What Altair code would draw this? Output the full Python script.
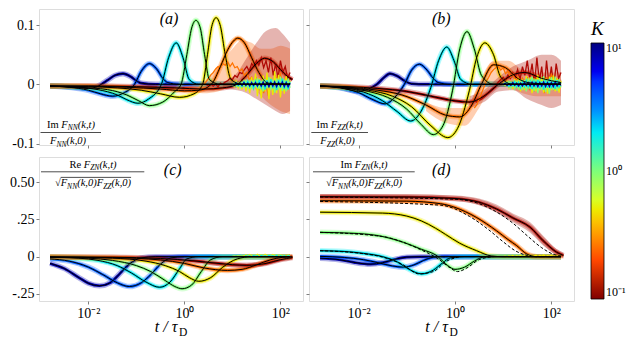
import altair as alt
import pandas as pd

SERIF = "Liberation Serif"
FRAME = "#7f7f7f"

# ---------------- colour bar (jet, reversed over K) ----------------
CB_K = [0.1, 0.1778, 0.3162, 0.5623, 1.0, 1.778, 3.162, 5.623, 10.0]
CB_COLORS = ["#800000", "#ff2100", "#ff9700", "#e3ff14", "#7dff7a",
             "#15ffe2", "#0080ff", "#0000ff", "#000080"]
CB_TICKS = [0.1, 1, 10]
CB_LABELS = ["10⁻¹", "10⁰", "10¹"]
BAND_COLORS = {0.25: "#ff6a10", 0.125: "#b01a10"}

# ---------------- axes ----------------
X_DOMAIN = [-3.03, 2.47]          # log10(t / tau_D)
X_TICKS = [-2, 0, 2]
X_LABELS = ["10⁻²", "10⁰", "10²"]
Y_DOMAIN_TOP = [-0.1025, 0.1272]
Y_TICKS_TOP = [-0.1, 0, 0.1]
Y_LABELS_TOP = ["-0.1", "0", "0.1"]
Y_DOMAIN_BOT = [-0.297, 0.668]
Y_TICKS_BOT = [-0.25, 0, 0.25, 0.5]
Y_LABELS_BOT = ["-.25", "0", ".25", "0.50"]

# ---------------- noise time grids ----------------
NZ_T = [1.00, 1.04, 1.08, 1.12, 1.16, 1.20, 1.24, 1.28, 1.32, 1.36, 1.40, 1.44, 1.48, 1.52, 1.56, 1.60,
        1.64, 1.68, 1.72, 1.76, 1.80, 1.84, 1.88, 1.92, 1.96, 2.00, 2.04, 2.08, 2.12, 2.16, 2.20]
NL_T = [0.40, 0.45, 0.50, 0.55, 0.60, 0.65, 0.70, 0.75, 0.80, 0.85, 0.90, 0.95, 1.00, 1.05, 1.10, 1.15,
        1.20, 1.25, 1.30, 1.35, 1.40, 1.45, 1.50, 1.55, 1.60, 1.65, 1.70, 1.75, 1.80, 1.85, 1.90, 1.95,
        2.00, 2.05, 2.10, 2.15, 2.20]

# ---------------- panel (a): Im F_NN / F_NN(k,0) ----------------
A_CURVES = {
    8: ([-2.8, -2.5, -2.2, -2.0, -1.85, -1.73, -1.6, -1.45, -1.28, -1.12, -1.0, -0.9, -0.6, 2.2],
        [-0.003, -0.004, -0.006, -0.007, -0.005, 0.0, 0.007, 0.015, 0.018, 0.013, 0.006, 0.002, 0.0, 0.0]),
    4: ([-2.8, -2.4, -2.0, -1.75, -1.5, -1.25, -1.04, -0.9, -0.73, -0.58, -0.45, -0.35, -0.1, 2.2],
        [-0.003, -0.005, -0.01, -0.016, -0.02, -0.014, 0.0, 0.022, 0.035, 0.026, 0.01, 0.003, 0.0, 0.0]),
    2: ([-2.8, -2.2, -1.8, -1.4, -1.2, -0.97, -0.75, -0.48, -0.33, -0.17, -0.03, 0.1, 0.3, 2.2],
        [-0.003, -0.005, -0.009, -0.018, -0.026, -0.032, -0.025, 0.0, 0.045, 0.07, 0.045, 0.008, 0.0, 0.0]),
    1: ([-2.8, -2.2, -1.6, -1.2, -0.95, -0.73, -0.45, -0.2, -0.07, 0.05, 0.15, 0.24, 0.33, 0.42, 0.52, 0.75, 2.2],
        [-0.003, -0.005, -0.009, -0.018, -0.028, -0.036, -0.03, -0.012, 0.0, 0.05, 0.095, 0.108, 0.095, 0.05,
         0.008, 0.0, 0.0]),
    0.5: ([-2.8, -2.0, -1.4, -0.9, -0.5, -0.1, 0.2, 0.38, 0.48, 0.57, 0.66, 0.75, 0.85, 0.97, 1.2, 2.2],
          [-0.003, -0.004, -0.006, -0.01, -0.016, -0.022, -0.016, 0.0, 0.05, 0.098, 0.1125, 0.098, 0.05, 0.008,
           0.0, 0.0]),
    0.25: ([-2.8, -2.0, -1.2, -0.5, 0.0, 0.3, 0.56, 0.75, 0.9, 1.02, 1.11, 1.25, 1.4, 1.55, 1.74, 2.2],
           [-0.003, -0.003, -0.005, -0.008, -0.011, -0.01, 0.0, 0.03, 0.058, 0.073, 0.078, 0.07, 0.045, 0.02,
            0.002, 0.0]),
    0.125: ([-2.8, -2.0, -1.0, -0.2, 0.4, 0.8, 1.1, 1.3, 1.5, 1.67, 1.85, 2.0, 2.15, 2.25],
            [-0.003, -0.003, -0.004, -0.006, -0.008, -0.006, 0.0, 0.016, 0.035, 0.044, 0.038, 0.025, 0.013, 0.008]),
}
A_BANDS = {
    0.25: ([0.0, 0.4, 0.7, 1.0, 1.2, 1.4, 1.6, 1.8, 2.0, 2.2],
           [-0.012, -0.015, -0.012, 0.0, 0.01, 0.0, -0.02, -0.035, -0.045, -0.05],
           [-0.004, 0.005, 0.03, 0.06, 0.075, 0.07, 0.06, 0.06, 0.065, 0.06]),
    0.125: ([0.8, 1.1, 1.3, 1.5, 1.7, 1.9, 2.05, 2.2],
            [-0.008, -0.01, -0.015, -0.025, -0.035, -0.045, -0.05, -0.045],
            [0.004, 0.02, 0.045, 0.07, 0.09, 0.095, 0.085, 0.07]),
}
A_NOISE = {
    0.125: (NL_T, [0.0, 0.0, -0.002, 0.0, -0.003, 0.0, -0.004, 0.002, 0.0, 0.004, 0.006, 0.01, 0.008, 0.015,
                   0.012, 0.02, 0.018, 0.025, 0.03, 0.022, 0.035, 0.03, 0.04, 0.032, 0.045, 0.028, 0.04, 0.02,
                   0.045, 0.015, 0.035, 0.01, 0.04, 0.02, 0.03, 0.01, 0.02]),
    0.25: (NL_T, [0.0, 0.004, 0.01, 0.016, 0.02, 0.026, 0.03, 0.028, 0.035, 0.032, 0.038, 0.03, 0.036, 0.028,
                  0.03, 0.022, 0.026, 0.015, 0.02, 0.008, 0.012, 0.0, 0.01, -0.01, 0.005, -0.015, 0.0, -0.02,
                  0.01, -0.012, 0.015, -0.005, 0.02, -0.01, 0.01, 0.0, 0.005]),
    0.5: (NZ_T, [0.002, -0.004, 0.005, -0.006, 0.004, -0.009, 0.008, -0.012, 0.006, -0.015, 0.012, -0.01, 0.018,
                 -0.02, 0.01, -0.024, 0.015, -0.012, 0.02, -0.025, 0.012, -0.018, 0.022, -0.015, 0.016, -0.022,
                 0.01, -0.016, 0.014, -0.01, 0.006]),
    1: (NZ_T, [-0.002, 0.003, -0.004, 0.002, -0.005, 0.004, -0.003, 0.006, -0.006, 0.005, -0.008, 0.007, -0.005,
               0.01, -0.008, 0.006, -0.012, 0.009, -0.007, 0.012, -0.01, 0.008, -0.014, 0.01, -0.009, 0.013,
               -0.011, 0.008, -0.012, 0.01, -0.006]),
    2: (NZ_T, [0.001, -0.002, 0.003, -0.003, 0.002, -0.004, 0.005, -0.003, 0.006, -0.005, 0.004, -0.007, 0.006,
               -0.004, 0.008, -0.006, 0.005, -0.009, 0.007, -0.005, 0.009, -0.007, 0.006, -0.01, 0.008, -0.006,
               0.01, -0.008, 0.006, -0.009, 0.004]),
    8: (NZ_T, [0.001, -0.002, 0.002, -0.001, 0.002, -0.002, 0.003, -0.002, 0.002, -0.003, 0.003, -0.002, 0.003,
               -0.003, 0.002, -0.003, 0.004, -0.003, 0.003, -0.004, 0.003, -0.003, 0.004, -0.004, 0.003, -0.003,
               0.004, -0.004, 0.003, -0.004, 0.002]),
}

# ---------------- panel (b): Im F_ZZ / F_ZZ(k,0) ----------------
B_CURVES = {
    8: ([-2.8, -2.4, -2.2, -2.0, -1.8, -1.62, -1.48, -1.35, -1.2, -1.05, -0.9, -0.6, 2.2],
        [-0.003, -0.005, -0.009, -0.012, -0.008, 0.0, 0.011, 0.018, 0.014, 0.006, 0.001, 0.0, 0.0]),
    4: ([-2.8, -2.4, -2.0, -1.7, -1.45, -1.25, -1.05, -0.9, -0.74, -0.58, -0.45, -0.35, -0.1, 2.2],
        [-0.003, -0.006, -0.014, -0.026, -0.033, -0.022, 0.0, 0.024, 0.034, 0.024, 0.01, 0.003, 0.0, 0.0]),
    2: ([-2.8, -2.3, -1.9, -1.5, -1.2, -0.92, -0.7, -0.5, -0.34, -0.17, -0.02, 0.12, 0.35, 2.2],
        [-0.003, -0.006, -0.013, -0.028, -0.046, -0.062, -0.045, -0.005, 0.04, 0.063, 0.04, 0.008, 0.0, 0.0]),
    1: ([-2.8, -2.3, -1.8, -1.4, -1.0, -0.7, -0.45, -0.25, -0.05, 0.1, 0.25, 0.4, 0.55, 0.8, 2.2],
        [-0.003, -0.006, -0.012, -0.022, -0.042, -0.068, -0.085, -0.07, -0.01, 0.06, 0.089, 0.06, 0.015, 0.0, 0.0]),
    0.5: ([-2.8, -2.3, -1.8, -1.3, -0.9, -0.5, -0.15, 0.05, 0.3, 0.45, 0.62, 0.8, 0.95, 1.2, 2.2],
          [-0.003, -0.005, -0.01, -0.02, -0.038, -0.07, -0.09, -0.075, -0.01, 0.045, 0.07, 0.05, 0.012, 0.0, 0.0]),
    0.25: ([-2.8, -2.2, -1.6, -1.1, -0.6, -0.2, 0.1, 0.35, 0.55, 0.8, 1.05, 1.3, 1.6, 2.2],
           [-0.003, -0.005, -0.01, -0.018, -0.035, -0.052, -0.055, -0.035, 0.0, 0.033, 0.028, 0.01, 0.002, 0.0]),
    0.125: ([-2.8, -2.2, -1.6, -1.0, -0.5, 0.0, 0.3, 0.6, 0.9, 1.2, 1.45, 1.8, 2.2],
            [-0.003, -0.004, -0.007, -0.012, -0.02, -0.028, -0.03, -0.02, 0.0, 0.016, 0.02, 0.01, 0.003]),
}
B_BANDS = {
    0.25: ([-0.6, -0.2, 0.2, 0.5, 0.8, 1.1, 1.4, 1.7, 2.0, 2.2],
           [-0.045, -0.065, -0.07, -0.04, 0.0, -0.005, -0.015, -0.02, -0.02, -0.02],
           [-0.03, -0.04, -0.04, 0.0, 0.04, 0.04, 0.025, 0.02, 0.02, 0.02]),
    0.125: ([0.3, 0.6, 0.9, 1.2, 1.5, 1.8, 2.0, 2.2],
            [-0.04, -0.03, -0.012, -0.01, -0.025, -0.035, -0.04, -0.035],
            [-0.02, -0.01, 0.012, 0.03, 0.04, 0.05, 0.05, 0.04]),
}
B_NOISE = {
    0.125: (NL_T, [-0.028, -0.03, -0.027, -0.025, -0.022, -0.018, -0.014, -0.01, -0.006, -0.002, 0.004, 0.008,
                   0.012, 0.006, 0.016, 0.01, 0.02, 0.012, 0.025, 0.008, 0.03, 0.015, 0.04, 0.01, 0.035, 0.0,
                   0.045, 0.005, 0.03, -0.01, 0.04, 0.0, 0.03, -0.005, 0.035, 0.01, 0.02]),
    0.25: (NL_T, [-0.04, -0.035, -0.025, -0.015, -0.005, 0.005, 0.012, 0.02, 0.025, 0.028, 0.03, 0.024, 0.028,
                  0.018, 0.022, 0.012, 0.018, 0.006, 0.012, 0.0, 0.01, -0.008, 0.012, -0.01, 0.008, -0.012,
                  0.015, -0.008, 0.01, -0.015, 0.012, -0.006, 0.018, -0.01, 0.01, -0.005, 0.004]),
    0.5: (NZ_T, [0.003, -0.002, 0.005, -0.006, 0.004, -0.008, 0.009, -0.005, 0.011, -0.012, 0.008, -0.01, 0.014,
                 -0.008, 0.012, -0.015, 0.01, -0.012, 0.016, -0.01, 0.012, -0.014, 0.01, -0.016, 0.013, -0.01,
                 0.015, -0.012, 0.01, -0.014, 0.006]),
    1: (NZ_T, [-0.002, 0.004, -0.003, 0.005, -0.006, 0.004, -0.007, 0.006, -0.009, 0.008, -0.01, 0.007, -0.012,
               0.01, -0.008, 0.013, -0.012, 0.009, -0.015, 0.011, -0.01, 0.014, -0.013, 0.009, -0.016, 0.012,
               -0.01, 0.013, -0.011, 0.009, -0.005]),
    2: (NZ_T, [0.002, -0.001, 0.003, -0.004, 0.003, -0.003, 0.005, -0.004, 0.004, -0.006, 0.005, -0.004, 0.007,
               -0.005, 0.006, -0.008, 0.006, -0.005, 0.008, -0.007, 0.005, -0.009, 0.007, -0.006, 0.009, -0.007,
               0.006, -0.008, 0.007, -0.005, 0.003]),
    8: (NZ_T, [-0.001, 0.002, -0.002, 0.001, -0.002, 0.003, -0.002, 0.002, -0.003, 0.002, -0.003, 0.003, -0.002,
               0.003, -0.003, 0.004, -0.003, 0.003, -0.004, 0.003, -0.003, 0.004, -0.004, 0.003, -0.004, 0.003,
               -0.004, 0.004, -0.003, 0.003, -0.002]),
}

# ---------------- panel (c): Re F_ZN / sqrt(F_NN F_ZZ) ----------------
C_CURVES = {
    8: ([-2.8, -2.5, -2.2, -2.0, -1.77, -1.55, -1.35, -1.15, -0.9, -0.6, 2.2],
        [-0.045, -0.08, -0.14, -0.178, -0.195, -0.175, -0.115, -0.05, -0.008, 0.0, 0.0]),
    4: ([-2.8, -2.4, -2.0, -1.7, -1.4, -1.15, -0.9, -0.7, -0.5, -0.28, 0.0, 2.2],
        [-0.015, -0.03, -0.07, -0.12, -0.175, -0.2, -0.175, -0.12, -0.05, -0.008, 0.0, 0.0]),
    2: ([-2.8, -2.2, -1.8, -1.4, -1.1, -0.8, -0.52, -0.3, -0.1, 0.05, 0.3, 2.2],
        [-0.004, -0.01, -0.025, -0.06, -0.11, -0.17, -0.205, -0.17, -0.08, -0.015, 0.0, 0.0]),
    1: ([-2.8, -2.0, -1.5, -1.0, -0.7, -0.4, -0.2, -0.05, 0.15, 0.35, 0.55, 0.8, 2.2],
        [-0.003, -0.01, -0.025, -0.06, -0.1, -0.16, -0.2, -0.215, -0.19, -0.1, -0.02, 0.0, 0.0]),
    0.5: ([-2.8, -1.5, -0.8, -0.4, -0.1, 0.1, 0.3, 0.55, 0.8, 1.1, 1.4, 2.2],
          [-0.002, -0.01, -0.03, -0.06, -0.1, -0.14, -0.165, -0.14, -0.07, -0.015, 0.0, 0.0]),
    0.25: ([-2.8, -1.5, -0.5, 0.0, 0.4, 0.9, 1.2, 1.5, 1.8, 2.05, 2.25],
           [-0.002, -0.006, -0.022, -0.045, -0.075, -0.092, -0.085, -0.055, -0.02, -0.004, 0.0]),
    0.125: ([-2.8, -1.5, -0.5, 0.2, 0.7, 1.3, 1.7, 2.0, 2.25],
            [-0.002, -0.004, -0.012, -0.028, -0.045, -0.058, -0.045, -0.02, -0.006]),
}
C_BANDS = {
    0.25: ([0.0, 0.5, 0.9, 1.3, 1.7, 2.0, 2.25],
           [-0.055, -0.09, -0.105, -0.09, -0.04, -0.015, -0.01],
           [-0.035, -0.07, -0.08, -0.07, -0.02, 0.005, 0.012]),
    0.125: ([0.5, 1.0, 1.3, 1.6, 1.9, 2.25],
            [-0.055, -0.07, -0.075, -0.065, -0.04, -0.02],
            [-0.03, -0.045, -0.045, -0.03, 0.0, 0.015]),
}
C_NOISE = {
    0.5: (NZ_T, [0.002, 0.006, 0.001, 0.008, 0.003, 0.01, 0.004, 0.012, 0.002, 0.014, 0.006, 0.01, 0.003, 0.015,
                 0.005, 0.012, 0.002, 0.016, 0.006, 0.011, 0.003, 0.014, 0.007, 0.01, 0.002, 0.013, 0.005, 0.009,
                 0.003, 0.011, 0.004]),
    2: (NZ_T, [0.001, 0.003, -0.001, 0.004, 0.0, 0.005, -0.002, 0.006, 0.001, 0.007, -0.001, 0.008, 0.002, 0.006,
               -0.002, 0.009, 0.001, 0.007, -0.001, 0.01, 0.002, 0.006, 0.0, 0.009, -0.002, 0.008, 0.001, 0.006,
               -0.001, 0.007, 0.002]),
}

# ---------------- panel (d): Im F_ZN / sqrt(F_NN F_ZZ) ----------------
D_CURVES = {
    8: ([-2.8, -2.4, -2.1, -1.76, -1.5, -1.25, -1.0, -0.7, 2.2],
        [-0.01, -0.02, -0.038, -0.05, -0.04, -0.018, -0.003, 0.0, 0.0]),
    4: ([-2.8, -2.3, -1.9, -1.6, -1.3, -1.07, -0.85, -0.65, -0.45, -0.2, 2.2],
        [0.002, -0.005, -0.02, -0.04, -0.062, -0.07, -0.055, -0.025, -0.004, 0.0, 0.0]),
    2: ([-2.8, -2.3, -1.9, -1.5, -1.2, -0.95, -0.7, -0.45, -0.25, -0.1, 0.2, 2.2],
        [0.04, 0.035, 0.022, 0.0, -0.035, -0.085, -0.115, -0.09, -0.04, -0.008, 0.0, 0.0]),
    1: ([-2.8, -2.0, -1.5, -1.07, -0.7, -0.37, -0.15, 0.0, 0.2, 0.4, 0.58, 0.9, 2.2],
        [0.163, 0.155, 0.135, 0.096, 0.05, 0.005, -0.06, -0.085, -0.07, -0.03, -0.003, 0.0, 0.0]),
    0.5: ([-2.8, -1.5, -1.0, -0.7, -0.4, -0.2, 0.1, 0.45, 0.75, 1.0, 2.2],
          [0.298, 0.292, 0.272, 0.24, 0.19, 0.15, 0.09, 0.04, 0.005, 0.0, 0.0]),
    0.25: ([-2.8, -1.0, -0.3, 0.0, 0.44, 0.86, 1.1, 1.28, 1.49, 1.7, 2.2],
           [0.375, 0.372, 0.355, 0.33, 0.264, 0.174, 0.115, 0.074, 0.018, 0.0, 0.0]),
    0.125: ([-2.8, -1.0, 0.0, 0.5, 0.86, 1.2, 1.56, 1.83, 2.11, 2.25],
            [0.402, 0.40, 0.39, 0.365, 0.32, 0.26, 0.197, 0.107, 0.03, 0.008]),
}
D_BANDS = {
    0.125: ([-2.8, -1.0, 0.0, 0.5, 0.86, 1.2, 1.56, 1.83, 2.11, 2.25],
            [0.385, 0.383, 0.373, 0.345, 0.295, 0.23, 0.16, 0.075, 0.01, -0.01],
            [0.42, 0.418, 0.41, 0.39, 0.35, 0.29, 0.23, 0.14, 0.05, 0.025]),
    0.25: ([-2.8, -1.0, -0.3, 0.44, 0.86, 1.28, 1.5, 1.8, 2.25],
           [0.362, 0.36, 0.343, 0.25, 0.158, 0.058, 0.008, -0.01, -0.012],
           [0.388, 0.385, 0.368, 0.278, 0.19, 0.09, 0.03, 0.012, 0.012]),
}
D_NOISE = {
    0.5: (NZ_T, [0.001, 0.004, -0.002, 0.005, 0.0, 0.007, -0.003, 0.006, 0.001, 0.009, -0.002, 0.007, 0.002,
                 0.01, -0.003, 0.008, 0.001, 0.011, -0.002, 0.009, 0.003, 0.012, -0.001, 0.008, 0.002, 0.01,
                 -0.002, 0.009, 0.001, 0.007, 0.002]),
}
D_DASHED = {
    0.125: ([-2.8, 0.0, 0.5, 0.86, 1.2, 1.5, 1.8, 2.05, 2.25],
            [0.40, 0.385, 0.355, 0.3, 0.225, 0.14, 0.06, 0.015, 0.003]),
    0.25: ([-2.8, -0.3, 0.3, 0.7, 1.0, 1.25, 1.5, 1.7],
           [0.37, 0.345, 0.27, 0.18, 0.1, 0.04, 0.008, 0.0]),
    1: ([-2.8, -1.5, -1.07, -0.7, -0.37, -0.1, 0.05, 0.25, 0.5, 0.8],
        [0.163, 0.135, 0.096, 0.045, -0.01, -0.075, -0.1, -0.075, -0.02, 0.0]),
    2: ([-2.8, -1.9, -1.5, -1.1, -0.75, -0.45, -0.2, 0.1],
        [0.04, 0.02, -0.003, -0.05, -0.115, -0.1, -0.035, 0.0]),
}

# ---------------- helpers ----------------
def to_df(curves):
    rows = []
    for k, (ts, ys) in curves.items():
        for t, y in zip(ts, ys):
            rows.append({"lt": t, "y": y, "K": k})
    return pd.DataFrame(rows)


def label_expr(values, labels):
    parts = []
    for v, l in zip(values, labels):
        parts.append(f"abs(datum.value - ({v})) < 1e-6 ? '{l}' : ")
    return "".join(parts) + "''"


CHAR_W = {"I": .333, "m": .778, "R": .667, "e": .444, " ": .25, "F": .611, "N": .667, "Z": .556,
          "(": .333, ")": .333, "k": .444, ",": .25, "t": .278, "0": .5, "√": .55, "/": .278,
          "τ": .45, "D": .722}


def seg_w(text, size):
    return sum(CHAR_W.get(c, .5) for c in text) * size


ONE = alt.Data(values=[{"o": 0}])


def rich(segs, cx, base, size):
    fs_list = []
    for t, kind in segs:
        fs = size * 0.72 if kind in ("sub", "subrm") else size
        fs_list.append(fs)
    total = sum(seg_w(t, fs) for (t, _), fs in zip(segs, fs_list))
    x = cx - total / 2
    layers, xs = [], []
    for (t, kind), fs in zip(segs, fs_list):
        dy = size * 0.25 if kind in ("sub", "subrm") else 0
        style = "italic" if kind in ("it", "sub") else "normal"
        layers.append(alt.Chart(ONE).mark_text(
            text=t, font=SERIF, fontSize=fs, fontStyle=style, align="left",
            baseline="alphabetic", color="black").encode(x=alt.value(x), y=alt.value(base + dy)))
        xs.append(x)
        x += seg_w(t, fs)
    xs.append(x)
    return layers, xs


def hrule(x1, x2, y):
    return alt.Chart(ONE).mark_rule(color="black", strokeWidth=0.7).encode(
        x=alt.value(x1), x2=alt.value(x2), y=alt.value(y))


def plain(text, x, y, size, style="italic"):
    return alt.Chart(ONE).mark_text(text=text, font=SERIF, fontSize=size, fontStyle=style,
                                    align="center", baseline="middle", color="black").encode(
        x=alt.value(x), y=alt.value(y))


cscale = alt.Scale(type="log", domain=CB_K, range=CB_COLORS)
legend = alt.Legend(
    type="gradient", title="K", orient="none", legendX=552, legendY=11, direction="vertical",
    gradientLength=256, gradientThickness=13, values=CB_TICKS,
    labelExpr=label_expr(CB_TICKS, CB_LABELS), titleFont=SERIF, titleFontStyle="italic",
    titleFontWeight="normal", titleFontSize=19, titlePadding=4, labelFont=SERIF,
    labelFontSize=12, labelColor="black", titleColor="black",
    gradientStrokeColor="black", gradientStrokeWidth=0.8, labelOffset=2, labelOverlap=False)
COLOR = alt.Color("K:Q", scale=cscale, legend=legend)


def panel(curves, bands, noise, dashed, ydom, yticks, ylabels, left, bottom, w, h, extra):
    xaxis = alt.Axis(values=X_TICKS, labels=bottom, labelExpr=label_expr(X_TICKS, X_LABELS),
                     title=None, grid=False, domain=False, tickSize=3, tickColor=FRAME,
                     labelFont=SERIF, labelFontSize=14, labelPadding=2, labelColor="black",
                     **({} if bottom else {"minExtent": 3, "maxExtent": 3}))
    yaxis = alt.Axis(values=yticks, labels=left, labelExpr=label_expr(yticks, ylabels),
                     title=None, grid=False, domain=False, tickSize=3, tickColor=FRAME,
                     labelFont=SERIF, labelFontSize=14, labelPadding=2, labelColor="black",
                     minExtent=30 if left else 3, maxExtent=30 if left else 3)
    X = alt.X("lt:Q", scale=alt.Scale(domain=X_DOMAIN, nice=False, zero=False), axis=xaxis)
    Y = alt.Y("y:Q", scale=alt.Scale(domain=ydom, nice=False, zero=False), axis=yaxis)
    cdf = to_df(curves)
    layers = []
    # full-opacity coloured curves first: the colour legend is taken from this layer
    layers.append(alt.Chart(cdf).mark_line(strokeWidth=2.6, interpolate="monotone", clip=True)
                  .encode(x=X, y=Y, color=COLOR, detail="K:N"))
    layers.append(alt.Chart(cdf).mark_line(strokeWidth=5.5, strokeOpacity=0.3, interpolate="monotone", clip=True)
                  .encode(x=X, y=Y, color=COLOR, detail="K:N"))
    for k, (ts, lo, hi) in bands.items():
        bdf = pd.DataFrame({"lt": ts, "y": lo, "hi": hi})
        layers.append(alt.Chart(bdf).mark_area(opacity=0.33, clip=True, interpolate="monotone",
                                               color=BAND_COLORS[k]).encode(x=X, y=Y, y2="hi:Q"))
    if noise:
        ndf = to_df(noise)
        layers.append(alt.Chart(ndf).mark_line(strokeWidth=1.3, clip=True)
                      .encode(x=X, y=Y, color=COLOR, detail="K:N"))
    layers.append(alt.Chart(cdf).mark_line(strokeWidth=1.0, color="black", interpolate="monotone", clip=True)
                  .encode(x=X, y=Y, detail="K:N"))
    if dashed:
        layers.append(alt.Chart(to_df(dashed)).mark_line(strokeWidth=1.0, color="black", strokeDash=[3, 2],
                                                         interpolate="monotone", clip=True)
                      .encode(x=X, y=Y, detail="K:N"))
    layers += extra
    return alt.layer(*layers).properties(width=w, height=h)


# ---------------- annotations ----------------
def frac_simple(num, den, cx_num, cx_den, y_num, y_bar, y_den, x1, x2, size=10.5):
    l1, _ = rich(num, cx_num, y_num, size)
    l2, _ = rich(den, cx_den, y_den, size)
    return l1 + l2 + [hrule(x1, x2, y_bar)]


def frac_sqrt(num, cx, y_num, y_bar, y_den, x1, x2, size=10.5):
    l1, _ = rich(num, cx, y_num, size)
    den = [("√", "rm"), ("F", "it"), ("NN", "sub"), ("(k,0)", "it"), ("F", "it"), ("ZZ", "sub"), ("(k,0)", "it")]
    l2, xs = rich(den, cx, y_den, size)
    return l1 + l2 + [hrule(x1, x2, y_bar), hrule(xs[1], xs[-1], y_den - size * 0.82)]


ann_a = frac_simple([("Im ", "rm"), ("F", "it"), ("NN", "sub"), ("(k,t)", "it")],
                    [("F", "it"), ("NN", "sub"), ("(k,0)", "it")],
                    32, 29, 118.5, 123.5, 135, 1.5, 62) + [plain("(a)", 130, 9.5, 16)]
ann_b = frac_simple([("Im ", "rm"), ("F", "it"), ("ZZ", "sub"), ("(k,t)", "it")],
                    [("F", "it"), ("ZZ", "sub"), ("(k,0)", "it")],
                    30.7, 28.5, 118.5, 123.5, 135, 2.3, 59) + [plain("(b)", 132.3, 9.5, 16)]
title_c, _ = rich([("t / τ", "it"), ("D", "subrm")], 132, 175, 16)
title_d, _ = rich([("t / τ", "it"), ("D", "subrm")], 132.5, 175, 16)
ann_c = frac_sqrt([("Re ", "rm"), ("F", "it"), ("ZN", "sub"), ("(k,t)", "it")],
                  54, 10.5, 14.8, 29, 2, 105.3) + [plain("(c)", 133.7, 13.3, 16)] + title_c
ann_d = frac_sqrt([("Im ", "rm"), ("F", "it"), ("ZN", "sub"), ("(k,t)", "it")],
                  55, 10.5, 14.8, 29, 4, 105.7) + [plain("(d)", 132.3, 13.3, 16)] + title_d

pa = panel(A_CURVES, A_BANDS, A_NOISE, None, Y_DOMAIN_TOP, Y_TICKS_TOP, Y_LABELS_TOP, True, False, 264, 136, ann_a)
pb = panel(B_CURVES, B_BANDS, B_NOISE, None, Y_DOMAIN_TOP, Y_TICKS_TOP, Y_LABELS_TOP, False, False, 265, 136, ann_b)
pc = panel(C_CURVES, C_BANDS, C_NOISE, None, Y_DOMAIN_BOT, Y_TICKS_BOT, Y_LABELS_BOT, True, True, 264, 144, ann_c)
pd_ = panel(D_CURVES, D_BANDS, D_NOISE, D_DASHED, Y_DOMAIN_BOT, Y_TICKS_BOT, Y_LABELS_BOT, False, True, 265, 144, ann_d)

row1 = alt.hconcat(pa, pb, spacing=1)
row2 = alt.hconcat(pc, pd_, spacing=1)
chart = alt.vconcat(row1, row2, spacing=4).properties(padding=0).configure_view(
    stroke=FRAME, strokeWidth=1.3).configure(background="white")

chart.save("out.html", embed_options={"renderer": "svg", "actions": False})
